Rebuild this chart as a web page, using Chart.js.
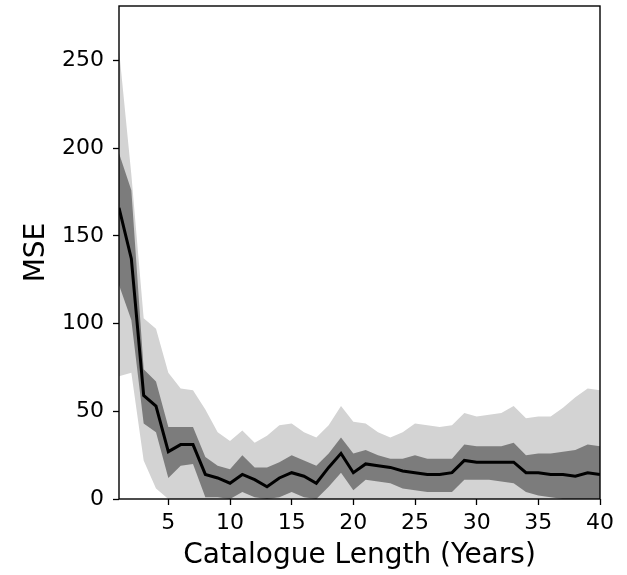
<!DOCTYPE html>
<html>
<head>
<meta charset="utf-8">
<script src="https://cdn.jsdelivr.net/npm/chart.js@4/dist/chart.umd.min.js"></script>
<style>
  html, body { margin: 0; padding: 0; background: #ffffff; }
  #wrap { width: 627px; height: 575px; position: relative; }
</style>
</head>
<body>
<div id="wrap"><canvas id="c" width="627" height="575"></canvas></div>
<script>
// Catalogue length (years)
const years = [1,2,3,4,5,6,7,8,9,10,11,12,13,14,15,16,17,18,19,20,
               21,22,23,24,25,26,27,28,29,30,31,32,33,34,35,36,37,38,39,40];
// Mean MSE (black line)
const meanMSE = [166,137,59,53,27,31,31,14,12,9,14,11,7,12,15,13,9,18,26,15,
                 20,19,18,16,15,14,14,15,22,21,21,21,21,15,15,14,14,13,15,14];
// Inner band (dark grey)
const innerUpper = [197,176,74,67,41,41,41,24,19,17,25,18,18,21,25,22,19,26,35,26,
                    28,25,23,23,25,23,23,23,31,30,30,30,32,25,26,26,27,28,31,30];
const innerLower = [122,102,43,38,12,19,20,1,1,0,4,1,0,1,4,1,0,7,15,5,
                    11,10,9,6,5,4,4,4,11,11,11,10,9,4,2,1,0,0,0,0];
// Outer band (light grey)
const outerUpper = [256,185,103,97,72,63,62,51,38,33,39,32,36,42,43,38,35,42,53,44,
                    43,38,35,38,43,42,41,42,49,47,48,49,53,46,47,47,52,58,63,62];
const outerLower = [70,72,22,6,0,0,0,0,0,0,0,0,0,0,0,0,0,0,0,0,
                    0,0,0,0,0,0,0,0,0,0,0,0,0,0,0,0,0,0,0,0];
// Tick labels
const xTicks = [5,10,15,20,25,30,35,40];
const yTicks = [0,50,100,150,200,250];

const pts = arr => arr.map((v, i) => ({x: years[i], y: v}));

const frame = {
  id: 'frame',
  afterDraw(chart) {
    const {ctx, chartArea: a} = chart;
    ctx.save();
    ctx.strokeStyle = '#000';
    ctx.lineWidth = 1.4;
    ctx.strokeRect(a.left, a.top, a.right - a.left, a.bottom - a.top);
    ctx.restore();
  }
};

const band = (data, fill, color) => ({
  data: pts(data), fill: fill, backgroundColor: color, borderWidth: 0,
  borderColor: 'rgba(0,0,0,0)', pointRadius: 0, tension: 0
});

new Chart(document.getElementById('c'), {
  type: 'line',
  data: {
    datasets: [
      { data: pts(meanMSE), borderColor: '#000', borderWidth: 3, pointRadius: 0, fill: false, tension: 0 },
      band(innerUpper, '+1', '#7c7c7c'),
      band(innerLower, false, '#7c7c7c'),
      band(outerUpper, '+1', '#d3d3d3'),
      band(outerLower, false, '#d3d3d3')
    ]
  },
  options: {
    responsive: false,
    animation: false,
    events: [],
    layout: { padding: { top: 6, right: 27, left: 0, bottom: 0 } },
    plugins: { legend: { display: false }, tooltip: { enabled: false } },
    scales: {
      x: {
        type: 'linear', min: 1, max: 40,
        afterBuildTicks: ax => { ax.ticks = xTicks.map(v => ({value: v})); },
        afterFit: ax => { ax.height = 76; ax.paddingLeft = 0; ax.paddingRight = 0; },
        grid: { display: true, drawOnChartArea: false, drawTicks: true, tickLength: 6, tickWidth: 1.3, tickColor: '#000' },
        border: { display: false },
        ticks: { color: '#000', font: { family: 'DejaVu Sans', size: 22 }, padding: 5, maxRotation: 0, autoSkip: false },
        title: { display: true, text: 'Catalogue Length (Years)', color: '#000',
                 font: { family: 'DejaVu Sans', size: 28 }, padding: { top: 0, bottom: 2 } }
      },
      y: {
        type: 'linear', min: 0, max: 281,
        afterBuildTicks: ax => { ax.ticks = yTicks.map(v => ({value: v})); },
        afterFit: ax => { ax.width = 119; ax.paddingTop = 0; ax.paddingBottom = 0; },
        grid: { display: true, drawOnChartArea: false, drawTicks: true, tickLength: 6, tickWidth: 1.3, tickColor: '#000' },
        border: { display: false },
        ticks: { color: '#000', font: { family: 'DejaVu Sans', size: 22 }, padding: 9, autoSkip: false },
        title: { display: true, text: 'MSE', color: '#000',
                 font: { family: 'DejaVu Sans', size: 28 }, padding: { top: 20, bottom: 0 } }
      }
    }
  },
  plugins: [frame]
});
</script>
</body>
</html>
